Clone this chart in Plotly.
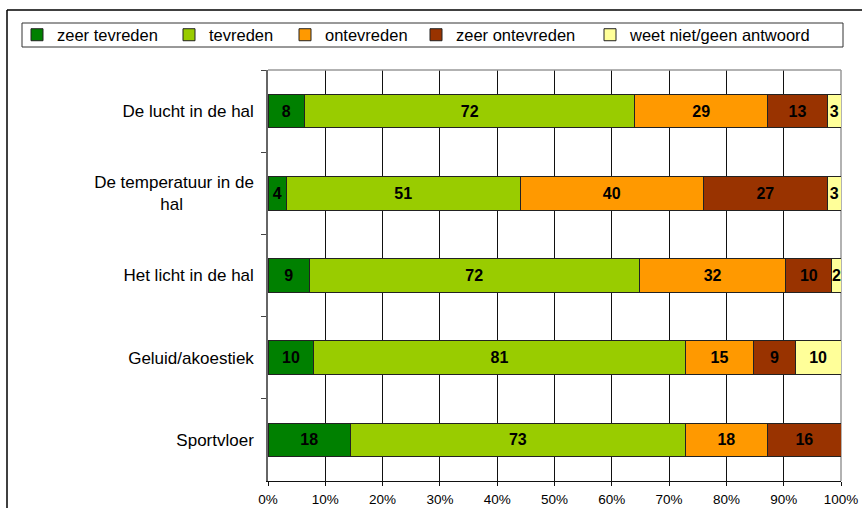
import plotly.graph_objects as go

categories = ["De lucht in de hal",
              "De temperatuur in de<br>hal" + "\u00a0" * 15,
              "Het licht in de hal",
              "Geluid/akoestiek",
              "Sportvloer"]
series_names = ["zeer tevreden", "tevreden", "ontevreden", "zeer ontevreden", "weet niet/geen antwoord"]
zeer_tevreden = [8, 4, 9, 10, 18]
tevreden = [72, 51, 72, 81, 73]
ontevreden = [29, 40, 32, 15, 18]
zeer_ontevreden = [13, 27, 10, 9, 16]
weet_niet = [3, 3, 2, 10, 0]
x_ticks = [0, 10, 20, 30, 40, 50, 60, 70, 80, 90, 100]
x_tick_labels = [f"{v}%" for v in x_ticks]

colors = ["#008000", "#99CC00", "#FF9900", "#993300", "#FFFF99"]
series = [zeer_tevreden, tevreden, ontevreden, zeer_ontevreden, weet_niet]
legend_widths = [107, 71, 86, 129, 200]

FONT = "Liberation Sans, Arial, sans-serif"

fig = go.Figure()
for name, vals, col, lw in zip(series_names, series, colors, legend_widths):
    fig.add_trace(go.Bar(
        y=categories, x=vals, name=name, orientation="h",
        marker=dict(color=col, line=dict(color="#222222", width=1)),
        text=[str(v) if v else "" for v in vals],
        texttemplate="%{text}",
        textposition="inside", insidetextanchor="middle",
        textangle=0, constraintext="none",
        textfont=dict(family=FONT, size=16, color="black", weight="bold"),
        width=0.41, hoverinfo="skip", legendwidth=lw,
    ))

L, R, T, B = 268, 841, 70, 481
W, H = 862, 508
pw, ph = R - L, B - T
def px(x): return (x - L) / pw
def py(y): return (B - y) / ph

fig.update_layout(
    width=W, height=H,
    margin=dict(l=L, r=W - R, t=T, b=H - B, pad=0, autoexpand=False),
    barmode="stack", barnorm="percent",
    paper_bgcolor="white", plot_bgcolor="white",
    font=dict(family=FONT, size=13, color="black"),
    showlegend=True,
    legend=dict(orientation="h", x=px(17), xanchor="left", y=py(35), yanchor="middle",
                font=dict(family=FONT, size=16.5, color="black"),
                bgcolor="rgba(0,0,0,0)", borderwidth=0, traceorder="normal",
                itemclick=False, itemdoubleclick=False),
    xaxis=dict(range=[0, 100], tickvals=x_ticks, ticktext=x_tick_labels,
               showgrid=True, gridcolor="#111111", gridwidth=1,
               showline=True, linecolor="#111111", linewidth=1,
               ticks="outside", ticklen=4, tickcolor="#111111",
               ticklabelstandoff=2,
               tickfont=dict(family=FONT, size=13.5, color="black"),
               zeroline=False, fixedrange=True, automargin=False),
    yaxis=dict(autorange="reversed", type="category",
               tickson="boundaries", ticks="outside", ticklen=5, tickcolor="#444444",
               showline=True, linecolor="#666666", linewidth=1.5,
               showgrid=False, ticklabelstandoff=9,
               tickfont=dict(family=FONT, size=17, color="black"),
               fixedrange=True, automargin=False),
    shapes=[
        # plot area top/right border
        dict(type="line", xref="paper", yref="paper", x0=0, x1=1, y0=1, y1=1,
             line=dict(color="#999999", width=1.5), layer="above"),
        dict(type="line", xref="paper", yref="paper", x0=1, x1=1, y0=0, y1=1,
             line=dict(color="#999999", width=1.5), layer="below"),
        # legend box
        dict(type="rect", xref="paper", yref="paper",
             x0=px(22), x1=px(843), y0=py(47), y1=py(23),
             line=dict(color="#333333", width=1)),
        # outer frame
        dict(type="line", xref="paper", yref="paper", x0=px(7), x1=px(870), y0=py(10), y1=py(10),
             line=dict(color="black", width=1.5)),
        dict(type="line", xref="paper", yref="paper", x0=px(7), x1=px(7), y0=py(10), y1=py(520),
             line=dict(color="black", width=1.5)),
    ],
)

fig.write_html("out.html", config={"displayModeBar": False},
               post_script="document.body.style.margin='0';document.body.style.overflow='hidden';")
